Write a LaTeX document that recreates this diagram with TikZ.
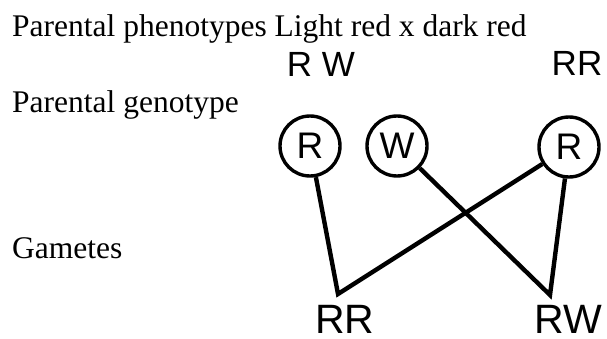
\documentclass[tikz,border=0pt]{standalone}
\usepackage{fontspec}
\setmainfont{Liberation Serif}
\newfontfamily\sansf{Liberation Sans}
\begin{document}
\begin{tikzpicture}[x=1pt,y=-1pt,
  lbl/.style={anchor=base west,inner sep=0pt,font=\fontsize{31.5}{34}\selectfont},
  gen/.style={anchor=base,inner sep=0pt,font=\sansf\fontsize{35}{38}\selectfont},
  allele/.style={circle,draw,line width=3.4pt,minimum size=60pt,inner sep=0pt,font=\sansf\fontsize{37}{40}\selectfont},
  gam/.style={anchor=base,inner sep=0pt,font=\sansf\fontsize{41}{44}\selectfont},
  crossline/.style={line width=4.4pt}]
\useasboundingbox (0,0) rectangle (607,339);
\node[lbl] (t1) at (12,37) {Parental phenotypes Light red x dark red};
\node[lbl] (t2) at (12,113) {Parental genotype};
\node[lbl] (t3) at (12,258) {Gametes};
\node[gen] (g1) at (321,77) {R W};
\node[gen] (g2) at (577,76) {RR};
\node[allele] (a1) at (310,146) {R};
\node[allele] (a2) at (397,146) {W};
\node[allele] (a3) at (569,147) {R};
\coordinate (v1) at (338,294);
\coordinate (v2) at (550,295);
\node[gam] (r1) at (345,333) {RR};
\node[gam] (r2) at (568,333) {RW};
\draw[crossline] (a1) -- (v1) -- (a3);
\draw[crossline] (a2) -- (v2) -- (a3);
\end{tikzpicture}
\end{document}
